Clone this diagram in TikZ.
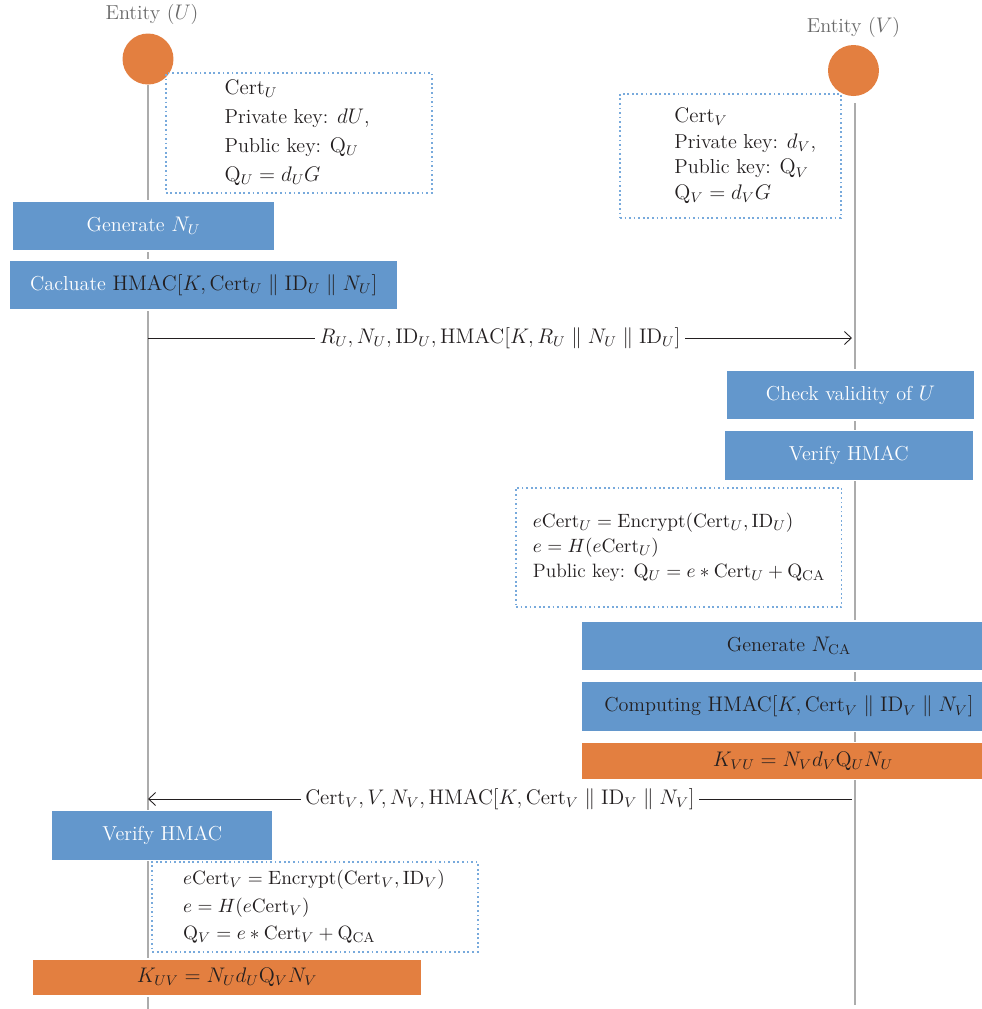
\documentclass[tikz,border=0pt]{standalone}
\usepackage{amsmath,amssymb}
\usepackage{xcolor}
\usepackage{tikz}
\definecolor{boxblue}{RGB}{99,151,204}
\definecolor{boxorange}{RGB}{227,127,64}
\definecolor{dotblue}{RGB}{120,170,220}
\definecolor{lifegray}{RGB}{172,172,172}
\definecolor{labelgray}{RGB}{105,105,105}
\definecolor{textdark}{RGB}{35,31,32}
\usetikzlibrary{positioning,arrows.meta}

\begin{document}
\begin{tikzpicture}[
    x=0.02cm, y=-0.02cm,
    font=\fontsize{11.5}{13.5}\selectfont,
    entity/.style={circle, fill=boxorange, minimum size=1.02cm, inner sep=0pt},
    entlabel/.style={text=labelgray, inner sep=1pt},
    lifeline/.style={lifegray, line width=0.6pt},
    action/.style={rectangle, fill=boxblue, draw=white, line width=0.6pt, minimum height=1.0cm, text centered, text=white, inner sep=0pt},
    keybox/.style={rectangle, fill=boxorange, draw=white, line width=0.6pt, minimum height=0.74cm, text centered, text=textdark, inner sep=0pt},
    info/.style={rectangle, draw=dotblue, line width=1pt, dash pattern=on 1pt off 1.6pt},
    infotext/.style={align=left, text=textdark, inner sep=0pt},
    msg/.style={-{Straight Barb[length=1.4mm, width=2.6mm]}, textdark, line width=0.5pt},
    msglabel/.style={fill=white, inner xsep=2.5pt, text=textdark},
]
\useasboundingbox (0,0) rectangle (982,1009);

% Entities
\node (cU) [entity] at (148,59) {};
\node (cV) [entity] at (853.5,70.5) {};
\node (labU) [entlabel, above=0.12cm of cU, xshift=0.08cm] {Entity ($U$)};
\node (labV) [entlabel, above=0.1cm of cV] {Entity ($V$)};

% Lifelines
\coordinate (endU) at (148,1009);
\coordinate (topV) at (855,103);
\coordinate (endV) at (855,1005);
\draw[lifeline] (cU.south) -- (endU);
\draw[lifeline] (topV) -- (endV);

% Key material
\node (infoU) [info, minimum width=5.33cm, minimum height=2.39cm] at (299,133) {};
\node (infoUtxt) [infotext, right=1.19cm of infoU.west] {
$\mathrm{Cert}_U$\\[3pt]
Private key: $dU$,\\[3pt]
Public key: $\mathrm{Q}_U$\\[3pt]
$\mathrm{Q}_U = d_U G$
};
\node (infoV) [info, minimum width=4.42cm, minimum height=2.49cm] at (730.5,156) {};
\node (infoVtxt) [infotext, right=1.1cm of infoV.west] {
$\mathrm{Cert}_V$\\[1.1pt]
Private key: $d_V$,\\[1.1pt]
Public key: $\mathrm{Q}_V$\\[1.1pt]
$\mathrm{Q}_V = d_V G$
};

% Steps of U
\node (genU) [action, minimum width=5.26cm] at (143.5,226) {Generate $N_U$};
\node (calcU) [action, minimum width=7.77cm] at (203.7,285) {Cacluate \textcolor{textdark}{$\mathrm{HMAC}[K, \mathrm{Cert}_U \parallel \mathrm{ID}_U \parallel N_U]$}};

% First message
\coordinate (u1) at (148,338);
\coordinate (v1) at (852,338);
\draw[msg] (u1) -- node[msglabel] {$R_U, N_U, \mathrm{ID}_U, \mathrm{HMAC}[K, R_U \parallel N_U \parallel \mathrm{ID}_U]$} (v1);

% Steps of V
\node (checkV) [action, minimum width=4.98cm] at (850.5,395) {Check validity of $U$};
\node (verV) [action, minimum width=4.98cm] at (848.7,455.7) {Verify HMAC};
\node (encU) [info, minimum width=6.51cm, minimum height=2.39cm] at (678.7,547.5) {};
\node (encUtxt) [infotext, font=\fontsize{11}{13}\selectfont, right=0.35cm of encU.west] {
$e\mathrm{Cert}_U = \mathrm{Encrypt}(\mathrm{Cert}_U, \mathrm{ID}_U)$\\[1.2pt]
$e = H(e\mathrm{Cert}_U)$\\[1.2pt]
Public key: $\mathrm{Q}_U = e \ast \mathrm{Cert}_U + \mathrm{Q}_{\mathrm{CA}}$
};
\node (genCA) [action, text=textdark, minimum width=8.32cm] at (789,646) {Generate $N_{\mathrm{CA}}$};
\node (compV) [action, text=textdark, minimum width=8.32cm] at (789,706.7) {Computing $\mathrm{HMAC}[K, \mathrm{Cert}_V \parallel \mathrm{ID}_V \parallel N_V]$};
\node (kVU) [keybox, minimum width=8.88cm] at (803,760.8) {$K_{VU} = N_V d_V \mathrm{Q}_U N_U$};

% Second message
\coordinate (v2) at (852,799);
\coordinate (u2) at (148,799);
\draw[msg] (v2) -- node[msglabel] {$\mathrm{Cert}_V, V, N_V, \mathrm{HMAC}[K, \mathrm{Cert}_V \parallel \mathrm{ID}_V \parallel N_V]$} (u2);

% Steps of U again
\node (verU) [action, minimum width=4.42cm] at (162.2,835.8) {Verify HMAC};
\node (encV) [info, minimum width=6.51cm, minimum height=1.8cm] at (315,906.7) {};
\node (encVtxt) [infotext, font=\fontsize{11}{13}\selectfont, right=0.63cm of encV.west] {
$e\mathrm{Cert}_V = \mathrm{Encrypt}(\mathrm{Cert}_V, \mathrm{ID}_V)$\\[2.6pt]
$e = H(e\mathrm{Cert}_V)$\\[2.6pt]
$\mathrm{Q}_V = e \ast \mathrm{Cert}_V + \mathrm{Q}_{\mathrm{CA}}$
};
\node (kUV) [keybox, minimum width=7.79cm] at (227,977.5) {$K_{UV} = N_U d_U \mathrm{Q}_V N_V$};

\end{tikzpicture}
\end{document}
